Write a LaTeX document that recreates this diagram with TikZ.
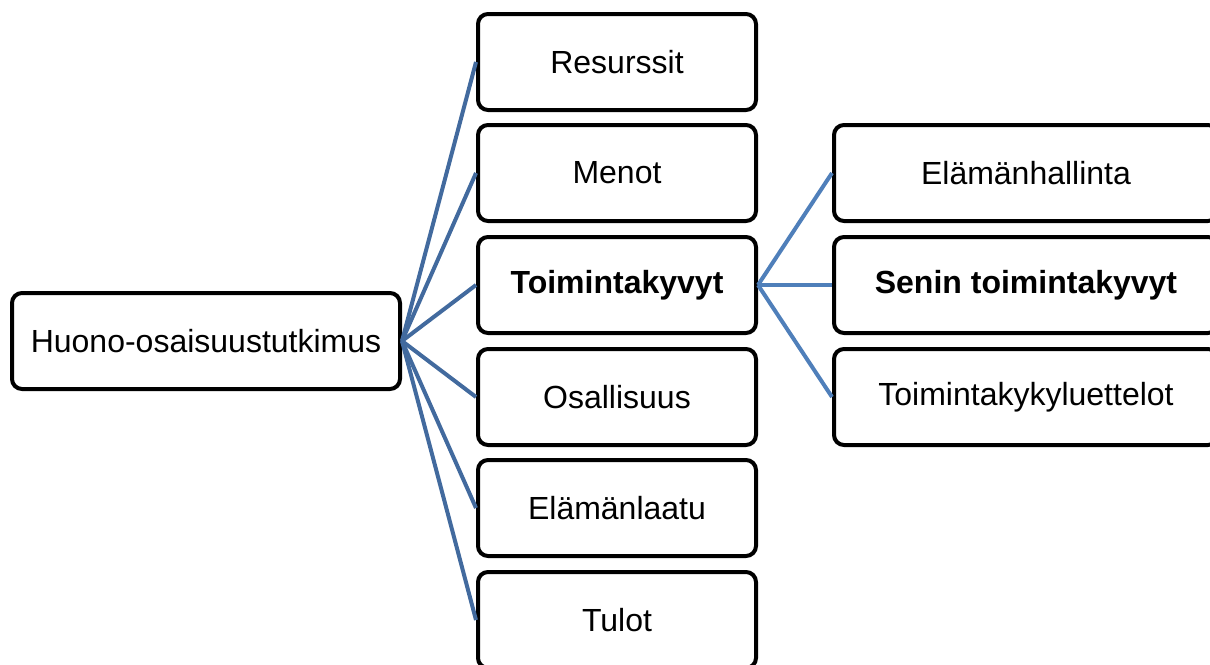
\documentclass[tikz,border=0pt]{standalone}
\usepackage{fontspec}
\setmainfont{Liberation Sans}
\definecolor{linkL}{RGB}{66,106,158}
\definecolor{linkR}{RGB}{79,127,186}
\begin{document}
\begin{tikzpicture}[x=1pt,y=-1pt,
  box/.style={draw=black,line width=4pt,rounded corners=10pt,fill=white,
    minimum height=96pt,inner sep=0pt,font=\fontsize{32}{38}\selectfont},
  midbox/.style={box,minimum width=278pt},
  rightbox/.style={box,minimum width=384pt},
  linkl/.style={draw=linkL,line width=4pt},
  linkr/.style={draw=linkR,line width=4pt}]
\useasboundingbox (0,0) rectangle (1210,664);
\clip (0,0) rectangle (1210,664);
\node[box,minimum width=388pt] (root) at (206,341) {Huono-osaisuustutkimus};
\node[midbox] (m1) at (617,62) {Resurssit};
\node[midbox] (m2) at (617,173) {Menot};
\node[midbox] (m3) at (617,285) {\bfseries Toimintakyvyt};
\node[midbox] (m4) at (617,397) {Osallisuus};
\node[midbox] (m5) at (617,508) {Elämänlaatu};
\node[midbox] (m6) at (617,620) {Tulot};
\node[rightbox] (r1) at (1026,173) {Elämänhallinta};
\node[rightbox] (r2) at (1026,285) {\bfseries Senin toimintakyvyt};
\node[rightbox] (r3) at (1026,397) {Toimintakykyluettelot};
\foreach \m in {m1,m2,m3,m4,m5,m6}
  \draw[linkl] (root.east) -- (\m.west);
\foreach \r in {r1,r2,r3}
  \draw[linkr] (m3.east) -- (\r.west);
\end{tikzpicture}
\end{document}
